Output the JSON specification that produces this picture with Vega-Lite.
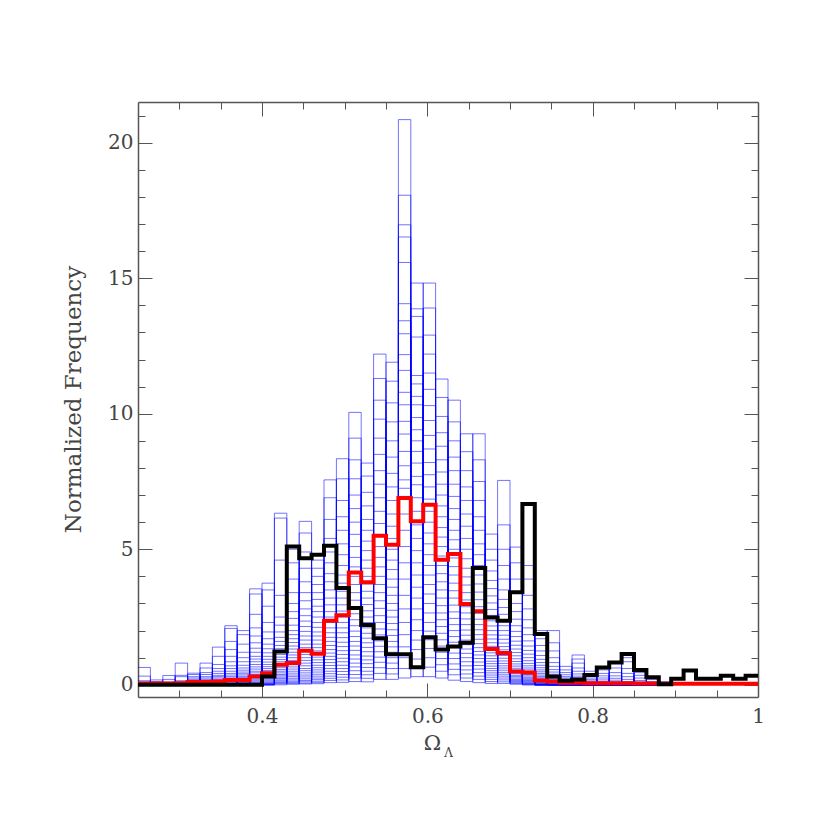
{
  "$schema": "https://vega.github.io/schema/vega-lite/v6.json",
  "width": 620,
  "height": 595,
  "autosize": {"type": "none"},
  "padding": {"left": 138, "top": 102, "right": 72, "bottom": 129},
  "background": "white",
  "config": {
    "view": {"stroke": null},
    "axis": {"labelFont": "DejaVu Serif", "titleFont": "DejaVu Serif", "domainColor": "#555555", "tickColor": "#555555", "labelColor": "#444444", "titleColor": "#444444", "grid": false, "titleFontWeight": "normal"}
  },
  "datasets": {
    "blue": [
      {"om":0.25,"a":0.64,"b":0.32,"c":0.15,"d":0.1,"e":0,"f":0,"g":0,"h":0,"i":0,"j":0,"k":0,"l":0,"m":0,"n":0,"o":0,"p":0,"q":0,"r":0,"s":0,"t":0,"u":0,"v":0,"w":0,"x":0,"y":0,"z":0,"A":0,"B":0,"C":0,"D":0,"E":0,"F":0},
      {"om":0.265,"a":0,"b":0,"c":0,"d":0,"e":0,"f":0,"g":0,"h":0,"i":0,"j":0,"k":0,"l":0,"m":0,"n":0,"o":0,"p":0,"q":0,"r":0,"s":0,"t":0,"u":0,"v":0,"w":0,"x":0,"y":0.18,"z":0.12,"A":0,"B":0,"C":0,"D":0,"E":0,"F":0},
      {"om":0.28,"a":0,"b":0,"c":0,"d":0,"e":0,"f":0,"g":0,"h":0,"i":0,"j":0,"k":0,"l":0,"m":0,"n":0,"o":0,"p":0,"q":0.34,"r":0.2,"s":0.1,"t":0,"u":0,"v":0,"w":0,"x":0,"y":0,"z":0,"A":0,"B":0,"C":0,"D":0,"E":0,"F":0},
      {"om":0.295,"a":0,"b":0,"c":0,"d":0,"e":0,"f":0,"g":0,"h":0,"i":0.8,"j":0.35,"k":0.3,"l":0.15,"m":0.1,"n":0,"o":0,"p":0,"q":0,"r":0,"s":0,"t":0,"u":0,"v":0,"w":0,"x":0,"y":0,"z":0,"A":0,"B":0,"C":0,"D":0,"E":0,"F":0},
      {"om":0.31,"a":0.43,"b":0.38,"c":0.3,"d":0.25,"e":0.2,"f":0.15,"g":0.1,"h":0.08,"i":0.05,"j":0,"k":0,"l":0,"m":0,"n":0,"o":0,"p":0,"q":0,"r":0,"s":0,"t":0,"u":0,"v":0,"w":0,"x":0,"y":0,"z":0,"A":0,"B":0,"C":0,"D":0,"E":0,"F":0},
      {"om":0.325,"a":0.12,"b":0.1,"c":0.08,"d":0.05,"e":0,"f":0,"g":0,"h":0,"i":0,"j":0,"k":0,"l":0,"m":0,"n":0,"o":0,"p":0,"q":0,"r":0,"s":0,"t":0,"u":0,"v":0,"w":0,"x":0,"y":0.8,"z":0.62,"A":0.45,"B":0.38,"C":0.3,"D":0.25,"E":0.2,"F":0.15},
      {"om":0.34,"a":0,"b":0,"c":0,"d":0,"e":0,"f":0,"g":0,"h":0,"i":0,"j":0,"k":0,"l":0,"m":0,"n":0,"o":0,"p":0,"q":1.39,"r":1.05,"s":0.75,"t":0.6,"u":0.5,"v":0.42,"w":0.35,"x":0.3,"y":0.25,"z":0.2,"A":0.16,"B":0.12,"C":0.1,"D":0.07,"E":0.05,"F":0},
      {"om":0.355,"a":0,"b":0,"c":0,"d":0,"e":0,"f":0,"g":0,"h":0,"i":2.18,"j":2.08,"k":1.6,"l":1.3,"m":1.05,"n":0.85,"o":0.7,"p":0.6,"q":0.5,"r":0.42,"s":0.36,"t":0.3,"u":0.25,"v":0.2,"w":0.16,"x":0.12,"y":0.09,"z":0.06,"A":0.04,"B":0,"C":0,"D":0,"E":0,"F":0},
      {"om":0.37,"a":2,"b":1.85,"c":1.5,"d":1.2,"e":1,"f":0.85,"g":0.72,"h":0.62,"i":0.54,"j":0.47,"k":0.41,"l":0.36,"m":0.3,"n":0.26,"o":0.22,"p":0.18,"q":0.15,"r":0.12,"s":0.09,"t":0.07,"u":0.05,"v":0,"w":0,"x":0,"y":0,"z":0,"A":0,"B":0,"C":0,"D":0,"E":0,"F":0},
      {"om":0.385,"a":1.05,"b":0.95,"c":0.85,"d":0.75,"e":0.66,"f":0.58,"g":0.5,"h":0.44,"i":0.38,"j":0.32,"k":0.27,"l":0.22,"m":0.18,"n":0.14,"o":0.1,"p":0.07,"q":0.05,"r":0.03,"s":0,"t":0,"u":0,"v":0,"w":0,"x":0,"y":3.54,"z":3.35,"A":2.6,"B":2.1,"C":1.8,"D":1.55,"E":1.35,"F":1.2},
      {"om":0.4,"a":0.47,"b":0.41,"c":0.36,"d":0.31,"e":0.26,"f":0.22,"g":0.18,"h":0.14,"i":0.1,"j":0.07,"k":0.05,"l":0.03,"m":0,"n":0,"o":0,"p":0,"q":3.75,"r":3.5,"s":2.9,"t":2.3,"u":1.95,"v":1.7,"w":1.5,"x":1.33,"y":1.18,"z":1.05,"A":0.94,"B":0.84,"C":0.75,"D":0.67,"E":0.6,"F":0.53},
      {"om":0.415,"a":0.28,"b":0.23,"c":0.18,"d":0.14,"e":0.1,"f":0.07,"g":0.04,"h":0,"i":6.33,"j":6.15,"k":4.6,"l":3.3,"m":2.5,"n":2.2,"o":1.95,"p":1.75,"q":1.6,"r":1.45,"s":1.33,"t":1.22,"u":1.12,"v":1.02,"w":0.93,"x":0.85,"y":0.77,"z":0.7,"A":0.63,"B":0.56,"C":0.5,"D":0.44,"E":0.38,"F":0.33},
      {"om":0.43,"a":5,"b":4.5,"c":3.9,"d":3.4,"e":3,"f":2.7,"g":2.45,"h":2.2,"i":2,"j":1.85,"k":1.7,"l":1.56,"m":1.43,"n":1.32,"o":1.2,"p":1.1,"q":1,"r":0.9,"s":0.82,"t":0.74,"u":0.66,"v":0.58,"w":0.5,"x":0.43,"y":0.36,"z":0.3,"A":0.24,"B":0.18,"C":0.13,"D":0.09,"E":0.05,"F":0.02},
      {"om":0.445,"a":2.55,"b":2.35,"c":2.15,"d":1.97,"e":1.8,"f":1.65,"g":1.5,"h":1.37,"i":1.24,"j":1.12,"k":1,"l":0.9,"m":0.8,"n":0.7,"o":0.6,"p":0.52,"q":0.44,"r":0.36,"s":0.29,"t":0.22,"u":0.16,"v":0.11,"w":0.06,"x":0.03,"y":6.03,"z":5.6,"A":4.9,"B":4.3,"C":3.8,"D":3.4,"E":3.1,"F":2.8},
      {"om":0.46,"a":1.25,"b":1.13,"c":1.02,"d":0.92,"e":0.82,"f":0.72,"g":0.63,"h":0.55,"i":0.47,"j":0.39,"k":0.32,"l":0.25,"m":0.19,"n":0.13,"o":0.08,"p":0.04,"q":4.6,"r":4.3,"s":4,"t":3.7,"u":3.4,"v":3.15,"w":2.9,"x":2.7,"y":2.5,"z":2.3,"A":2.12,"B":1.95,"C":1.8,"D":1.65,"E":1.5,"F":1.37},
      {"om":0.475,"a":0.71,"b":0.6,"c":0.5,"d":0.41,"e":0.32,"f":0.24,"g":0.16,"h":0.08,"i":7.56,"j":6.9,"k":6.1,"l":5.4,"m":4.9,"n":4.5,"o":4.1,"p":3.8,"q":3.5,"r":3.2,"s":2.95,"t":2.7,"u":2.5,"v":2.3,"w":2.1,"x":1.92,"y":1.75,"z":1.6,"A":1.45,"B":1.3,"C":1.17,"D":1.05,"E":0.93,"F":0.82},
      {"om":0.49,"a":8.34,"b":7.6,"c":6.8,"d":6.2,"e":5.7,"f":5.2,"g":4.8,"h":4.4,"i":4.05,"j":3.75,"k":3.45,"l":3.2,"m":2.95,"n":2.72,"o":2.5,"p":2.3,"q":2.1,"r":1.92,"s":1.74,"t":1.57,"u":1.41,"v":1.26,"w":1.12,"x":0.98,"y":0.85,"z":0.72,"A":0.6,"B":0.49,"C":0.38,"D":0.28,"E":0.18,"F":0.09},
      {"om":0.505,"a":5.1,"b":4.7,"c":4.35,"d":4,"e":3.7,"f":3.4,"g":3.12,"h":2.86,"i":2.62,"j":2.4,"k":2.18,"l":1.98,"m":1.78,"n":1.6,"o":1.43,"p":1.27,"q":1.1,"r":0.95,"s":0.8,"t":0.66,"u":0.52,"v":0.38,"w":0.25,"x":0.12,"y":10.05,"z":9.1,"A":8.3,"B":7.6,"C":7,"D":6.5,"E":6,"F":5.55},
      {"om":0.52,"a":2.5,"b":2.3,"c":2.1,"d":1.9,"e":1.72,"f":1.55,"g":1.38,"h":1.22,"i":1.06,"j":0.92,"k":0.78,"l":0.64,"m":0.5,"n":0.37,"o":0.24,"p":0.11,"q":8.18,"r":7.7,"s":7.1,"t":6.6,"u":6.1,"v":5.7,"w":5.3,"x":4.95,"y":4.6,"z":4.3,"A":4,"B":3.72,"C":3.45,"D":3.2,"E":2.96,"F":2.73},
      {"om":0.535,"a":1.62,"b":1.42,"c":1.22,"d":1.02,"e":0.83,"f":0.63,"g":0.42,"h":0.2,"i":12.2,"j":11.3,"k":10.5,"l":9.8,"m":9.1,"n":8.5,"o":7.9,"p":7.4,"q":6.9,"r":6.4,"s":5.95,"t":5.5,"u":5.1,"v":4.7,"w":4.35,"x":4,"y":3.7,"z":3.4,"A":3.1,"B":2.82,"C":2.55,"D":2.3,"E":2.06,"F":1.84},
      {"om":0.55,"a":11.9,"b":11.2,"c":10.4,"d":9.7,"e":9,"f":8.4,"g":7.8,"h":7.3,"i":6.8,"j":6.3,"k":5.85,"l":5.4,"m":5,"n":4.6,"o":4.25,"p":3.9,"q":3.6,"r":3.3,"s":3,"t":2.75,"u":2.5,"v":2.26,"w":2.03,"x":1.82,"y":1.6,"z":1.4,"A":1.2,"B":1,"C":0.8,"D":0.6,"E":0.4,"F":0.2},
      {"om":0.565,"a":12.18,"b":11.6,"c":10.79,"d":10.33,"e":9.72,"f":9.25,"g":8.61,"h":8.08,"i":7.56,"j":7.25,"k":6.95,"l":6.3,"m":5.7,"n":5.1,"o":4.5,"p":3.9,"q":3.3,"r":2.8,"s":2.3,"t":1.85,"u":1.4,"v":1,"w":0.6,"x":0.25,"y":20.85,"z":18.06,"A":16.97,"B":16.52,"C":15.58,"D":14.06,"E":13.43,"F":12.95},
      {"om":0.58,"a":6.4,"b":5.9,"c":5.4,"d":4.95,"e":4.5,"f":4.05,"g":3.6,"h":3.2,"i":2.8,"j":2.4,"k":2,"l":1.65,"m":1.3,"n":0.95,"o":0.6,"p":0.3,"q":14.82,"r":13.87,"s":13.59,"t":12.83,"u":11.41,"v":11.1,"w":10.64,"x":10.33,"y":9.86,"z":9.41,"A":9,"B":8.61,"C":8.18,"D":7.69,"E":7.38,"F":6.9},
      {"om":0.595,"a":2.65,"b":2.3,"c":1.98,"d":1.66,"e":1.34,"f":1,"g":0.65,"h":0.3,"i":14.82,"j":13.9,"k":12.9,"l":12.2,"m":11.5,"n":10.9,"o":10.3,"p":9.75,"q":9.2,"r":8.7,"s":8.2,"t":7.75,"u":7.3,"v":6.85,"w":6.4,"x":6,"y":5.6,"z":5.2,"A":4.8,"B":4.4,"C":4.05,"D":3.7,"E":3.35,"F":3},
      {"om":0.61,"a":11.28,"b":10.6,"c":9.9,"d":9.3,"e":8.8,"f":8.3,"g":7.85,"h":7.4,"i":7,"j":6.6,"k":6.2,"l":5.8,"m":5.45,"n":5.1,"o":4.75,"p":4.4,"q":4.1,"r":3.8,"s":3.5,"t":3.2,"u":2.92,"v":2.65,"w":2.4,"x":2.15,"y":1.9,"z":1.66,"A":1.43,"B":1.2,"C":0.97,"D":0.74,"E":0.5,"F":0.25},
      {"om":0.625,"a":6.1,"b":5.7,"c":5.35,"d":5,"e":4.68,"f":4.36,"g":4.05,"h":3.75,"i":3.47,"j":3.2,"k":2.94,"l":2.69,"m":2.45,"n":2.22,"o":2,"p":1.78,"q":1.57,"r":1.37,"s":1.17,"t":0.97,"u":0.77,"v":0.57,"w":0.37,"x":0.17,"y":10.5,"z":9.7,"A":9,"B":8.4,"C":7.9,"D":7.4,"E":6.95,"F":6.5},
      {"om":0.64,"a":2.65,"b":2.43,"c":2.22,"d":2.02,"e":1.83,"f":1.65,"g":1.48,"h":1.32,"i":1.16,"j":1,"k":0.85,"l":0.7,"m":0.55,"n":0.4,"o":0.25,"p":0.12,"q":9.26,"r":8.6,"s":7.9,"t":7.3,"u":6.8,"v":6.3,"w":5.85,"x":5.4,"y":5,"z":4.65,"A":4.3,"B":3.98,"C":3.68,"D":3.4,"E":3.13,"F":2.88},
      {"om":0.655,"a":0.97,"b":0.84,"c":0.71,"d":0.58,"e":0.45,"f":0.32,"g":0.2,"h":0.08,"i":9.26,"j":8.3,"k":7.5,"l":6.8,"m":6.2,"n":5.7,"o":5.2,"p":4.8,"q":4.4,"r":4.05,"s":3.72,"t":3.42,"u":3.14,"v":2.88,"w":2.64,"x":2.42,"y":2.22,"z":2.03,"A":1.85,"B":1.68,"C":1.52,"D":1.37,"E":1.23,"F":1.1},
      {"om":0.67,"a":5.56,"b":5,"c":4.6,"d":4.2,"e":3.85,"f":3.55,"g":3.28,"h":3.02,"i":2.78,"j":2.56,"k":2.36,"l":2.17,"m":2,"n":1.84,"o":1.69,"p":1.55,"q":1.42,"r":1.3,"s":1.18,"t":1.07,"u":0.97,"v":0.87,"w":0.78,"x":0.69,"y":0.6,"z":0.52,"A":0.44,"B":0.36,"C":0.28,"D":0.2,"E":0.12,"F":0.05},
      {"om":0.685,"a":2.6,"b":2.38,"c":2.18,"d":2,"e":1.83,"f":1.68,"g":1.54,"h":1.41,"i":1.29,"j":1.18,"k":1.08,"l":0.98,"m":0.88,"n":0.79,"o":0.7,"p":0.62,"q":0.54,"r":0.46,"s":0.39,"t":0.32,"u":0.25,"v":0.18,"w":0.11,"x":0.05,"y":7.54,"z":5.9,"A":5,"B":4.4,"C":3.9,"D":3.5,"E":3.15,"F":2.85},
      {"om":0.7,"a":0.86,"b":0.77,"c":0.69,"d":0.61,"e":0.54,"f":0.47,"g":0.41,"h":0.35,"i":0.3,"j":0.25,"k":0.2,"l":0.16,"m":0.12,"n":0.08,"o":0.05,"p":0.02,"q":5.08,"r":4.5,"s":3.9,"t":3.4,"u":3,"v":2.7,"w":2.42,"x":2.18,"y":1.97,"z":1.78,"A":1.61,"B":1.46,"C":1.32,"D":1.19,"E":1.07,"F":0.96},
      {"om":0.715,"a":0.16,"b":0.13,"c":0.1,"d":0.07,"e":0.05,"f":0.03,"g":0,"h":0,"i":4.4,"j":3.9,"k":3.3,"l":2.8,"m":2.4,"n":2.1,"o":1.85,"p":1.62,"q":1.43,"r":1.27,"s":1.13,"t":1,"u":0.89,"v":0.79,"w":0.7,"x":0.62,"y":0.55,"z":0.49,"A":0.43,"B":0.38,"C":0.33,"D":0.28,"E":0.24,"F":0.2},
      {"om":0.73,"a":2,"b":1.7,"c":1.45,"d":1.25,"e":1.08,"f":0.94,"g":0.82,"h":0.72,"i":0.63,"j":0.55,"k":0.48,"l":0.42,"m":0.36,"n":0.31,"o":0.26,"p":0.22,"q":0.18,"r":0.15,"s":0.12,"t":0.09,"u":0.07,"v":0.05,"w":0.03,"x":0,"y":0,"z":0,"A":0,"B":0,"C":0,"D":0,"E":0,"F":0},
      {"om":0.745,"a":0.39,"b":0.33,"c":0.28,"d":0.23,"e":0.19,"f":0.15,"g":0.12,"h":0.09,"i":0.06,"j":0.04,"k":0.02,"l":0,"m":0,"n":0,"o":0,"p":0,"q":0,"r":0,"s":0,"t":0,"u":0,"v":0,"w":0,"x":0,"y":2,"z":1.55,"A":1.25,"B":1,"C":0.82,"D":0.68,"E":0.56,"F":0.47},
      {"om":0.76,"a":0,"b":0,"c":0,"d":0,"e":0,"f":0,"g":0,"h":0,"i":0,"j":0,"k":0,"l":0,"m":0,"n":0,"o":0,"p":0,"q":0.68,"r":0.55,"s":0.45,"t":0.37,"u":0.3,"v":0.25,"w":0.2,"x":0.16,"y":0.12,"z":0.09,"A":0.06,"B":0.04,"C":0,"D":0,"E":0,"F":0},
      {"om":0.775,"a":0,"b":0,"c":0,"d":0,"e":0,"f":0,"g":0,"h":0,"i":1.1,"j":0.95,"k":0.8,"l":0.62,"m":0.5,"n":0.4,"o":0.32,"p":0.25,"q":0.19,"r":0.14,"s":0.1,"t":0.07,"u":0.04,"v":0,"w":0,"x":0,"y":0,"z":0,"A":0,"B":0,"C":0,"D":0,"E":0,"F":0},
      {"om":0.79,"a":0.5,"b":0.4,"c":0.32,"d":0.25,"e":0.19,"f":0.14,"g":0.1,"h":0.06,"i":0.03,"j":0,"k":0,"l":0,"m":0,"n":0,"o":0,"p":0,"q":0,"r":0,"s":0,"t":0,"u":0,"v":0,"w":0,"x":0,"y":0,"z":0,"A":0,"B":0,"C":0,"D":0,"E":0,"F":0},
      {"om":0.805,"a":0.04,"b":0,"c":0,"d":0,"e":0,"f":0,"g":0,"h":0,"i":0,"j":0,"k":0,"l":0,"m":0,"n":0,"o":0,"p":0,"q":0,"r":0,"s":0,"t":0,"u":0,"v":0,"w":0,"x":0,"y":0.65,"z":0.55,"A":0.42,"B":0.33,"C":0.25,"D":0.18,"E":0.12,"F":0.07},
      {"om":0.82,"a":0,"b":0,"c":0,"d":0,"e":0,"f":0,"g":0,"h":0,"i":0,"j":0,"k":0,"l":0,"m":0,"n":0,"o":0,"p":0,"q":0.86,"r":0.62,"s":0.45,"t":0.33,"u":0.24,"v":0.17,"w":0.11,"x":0.06,"y":0,"z":0,"A":0,"B":0,"C":0,"D":0,"E":0,"F":0},
      {"om":0.835,"a":0,"b":0,"c":0,"d":0,"e":0,"f":0,"g":0,"h":0,"i":1,"j":0.85,"k":0.6,"l":0.42,"m":0.3,"n":0.2,"o":0.12,"p":0.06,"q":0,"r":0,"s":0,"t":0,"u":0,"v":0,"w":0,"x":0,"y":0,"z":0,"A":0,"B":0,"C":0,"D":0,"E":0,"F":0},
      {"om":0.85,"a":0.45,"b":0.35,"c":0.25,"d":0.16,"e":0.1,"f":0.05,"g":0,"h":0,"i":0,"j":0,"k":0,"l":0,"m":0,"n":0,"o":0,"p":0,"q":0,"r":0,"s":0,"t":0,"u":0,"v":0,"w":0,"x":0,"y":0,"z":0,"A":0,"B":0,"C":0,"D":0,"E":0,"F":0},
      {"om":0.865,"a":0,"b":0,"c":0,"d":0,"e":0,"f":0,"g":0,"h":0,"i":0,"j":0,"k":0,"l":0,"m":0,"n":0,"o":0,"p":0,"q":0,"r":0,"s":0,"t":0,"u":0,"v":0,"w":0,"x":0,"y":0.3,"z":0.2,"A":0.12,"B":0.06,"C":0,"D":0,"E":0,"F":0},
      {"om":0.88,"a":0,"b":0,"c":0,"d":0,"e":0,"f":0,"g":0,"h":0,"i":0,"j":0,"k":0,"l":0,"m":0,"n":0,"o":0,"p":0,"q":0.12,"r":0.06,"s":0,"t":0,"u":0,"v":0,"w":0,"x":0,"y":0,"z":0,"A":0,"B":0,"C":0,"D":0,"E":0,"F":0},
      {"om":0.895,"a":0,"b":0,"c":0,"d":0,"e":0,"f":0,"g":0,"h":0,"i":0,"j":0,"k":0,"l":0,"m":0,"n":0,"o":0,"p":0,"q":0,"r":0,"s":0,"t":0,"u":0,"v":0,"w":0,"x":0,"y":0,"z":0,"A":0,"B":0,"C":0,"D":0,"E":0,"F":0}
    ],
    "main": [
      {"om":0.25,"r":0.05,"k":0},{"om":0.265,"r":0.05,"k":0},{"om":0.28,"r":0.05,"k":0},{"om":0.295,"r":0.06,"k":0},
      {"om":0.31,"r":0.1,"k":0},{"om":0.325,"r":0.1,"k":0},{"om":0.34,"r":0.12,"k":0},{"om":0.355,"r":0.18,"k":0},
      {"om":0.37,"r":0.18,"k":0},{"om":0.385,"r":0.31,"k":0},{"om":0.4,"r":0.43,"k":0.31},{"om":0.415,"r":0.74,"k":1.23},
      {"om":0.43,"r":0.8,"k":5.1},{"om":0.445,"r":1.26,"k":4.67},{"om":0.46,"r":1.15,"k":4.8},{"om":0.475,"r":2.36,"k":5.13},
      {"om":0.49,"r":2.57,"k":3.57},{"om":0.505,"r":4.14,"k":2.83},{"om":0.52,"r":3.78,"k":2.21},{"om":0.535,"r":5.5,"k":1.72},
      {"om":0.55,"r":5.17,"k":1.13},{"om":0.565,"r":6.89,"k":1.13},{"om":0.58,"r":6.03,"k":0.65},{"om":0.595,"r":6.64,"k":1.75},
      {"om":0.61,"r":4.61,"k":1.3},{"om":0.625,"r":4.83,"k":1.41},{"om":0.64,"r":2.98,"k":1.55},{"om":0.655,"r":2.71,"k":4.31},
      {"om":0.67,"r":1.32,"k":2.48},{"om":0.685,"r":1.17,"k":2.36},{"om":0.7,"r":0.49,"k":3.41},{"om":0.715,"r":0.45,"k":6.67},
      {"om":0.73,"r":0.16,"k":1.87},{"om":0.745,"r":0.12,"k":0.31},{"om":0.76,"r":0.08,"k":0.15},{"om":0.775,"r":0.08,"k":0.2},
      {"om":0.79,"r":0.06,"k":0.36},{"om":0.805,"r":0.06,"k":0.64},{"om":0.82,"r":0.06,"k":0.82},{"om":0.835,"r":0.06,"k":1.14},
      {"om":0.85,"r":0.05,"k":0.55},{"om":0.865,"r":0.05,"k":0.28},{"om":0.88,"r":0.04,"k":0.02},{"om":0.895,"r":0.04,"k":0.22},
      {"om":0.91,"r":0.04,"k":0.53},{"om":0.925,"r":0.04,"k":0.22},{"om":0.94,"r":0.04,"k":0.22},{"om":0.955,"r":0.04,"k":0.33},
      {"om":0.97,"r":0.04,"k":0.22},{"om":0.985,"r":0.04,"k":0.33},{"om":1.0,"r":0.04,"k":0.33}
    ]
  },
  "layer": [
    {
      "data": {"name": "blue"},
      "transform": [{"fold": ["a","b","c","d","e","f","g","h","i","j","k","l","m","n","o","p","q","r","s","t","u","v","w","x","y","z","A","B","C","D","E","F"], "as": ["hist","freq"]}],
      "mark": {"type": "line", "interpolate": "step-after", "stroke": "#0000ff", "strokeWidth": 1, "opacity": 0.55, "clip": true},
      "encoding": {
        "x": {"field": "om", "type": "quantitative", "scale": {"domain": [0.25, 1], "nice": false, "zero": false},
              "axis": {"orient": "bottom", "values": [0.4, 0.6, 0.8, 1], "format": "~g", "ticks": false, "labelPadding": 9, "labelFontSize": 20, "labelFlush": false, "domainWidth": 1.5,
                       "title": "Ω", "titleFontSize": 21, "titleX": 294, "titleY": 46, "titleAlign": "center", "titleBaseline": "middle", "titleAngle": 0}},
        "y": {"field": "freq", "type": "quantitative", "scale": {"domain": [-0.45, 21.5], "nice": false, "zero": false},
              "axis": {"orient": "left", "values": [0, 5, 10, 15, 20], "ticks": false, "labelPadding": 5, "labelFontSize": 20, "labelFlush": false, "domainWidth": 1.5,
                       "title": "Normalized Frequency", "titleFontSize": 23, "titleX": -65, "titleY": 297, "titleAlign": "center", "titleBaseline": "middle", "titleAngle": -90}},
        "detail": {"field": "hist", "type": "nominal"}
      }
    },
    {
      "data": {"name": "main"},
      "mark": {"type": "line", "interpolate": "step-after", "stroke": "#ff0000", "strokeWidth": 4, "strokeJoin": "miter", "clip": true},
      "encoding": {
        "x": {"field": "om", "type": "quantitative",
              "axis": {"orient": "top", "values": [0.3,0.35,0.4,0.45,0.5,0.55,0.6,0.65,0.7,0.75,0.8,0.85,0.9,0.95], "labels": false, "title": null, "domainWidth": 1.5,
                       "tickSize": {"condition": {"test": "abs(datum.value*5 - round(datum.value*5)) < 0.01", "value": -14}, "value": -7}}},
        "y": {"field": "r", "type": "quantitative",
              "axis": {"orient": "right", "values": [0,1,2,3,4,5,6,7,8,9,10,11,12,13,14,15,16,17,18,19,20,21], "labels": false, "title": null, "domainWidth": 1.5,
                       "tickSize": {"condition": {"test": "datum.value % 5 == 0", "value": -14}, "value": -7}}}
      }
    },
    {
      "data": {"name": "main"},
      "mark": {"type": "line", "interpolate": "step-after", "stroke": "#000000", "strokeWidth": 4, "strokeJoin": "miter", "clip": true},
      "encoding": {
        "x": {"field": "om", "type": "quantitative",
              "axis": {"orient": "bottom", "values": [0.3,0.35,0.4,0.45,0.5,0.55,0.6,0.65,0.7,0.75,0.8,0.85,0.9,0.95], "labels": false, "domain": false,
                       "tickSize": {"condition": {"test": "abs(datum.value*5 - round(datum.value*5)) < 0.01", "value": -14}, "value": -7},
                       "title": "Λ", "titleFontSize": 12, "titleX": 310, "titleY": 55, "titleAlign": "center", "titleBaseline": "middle", "titleAngle": 0}},
        "y": {"field": "k", "type": "quantitative",
              "axis": {"orient": "left", "values": [0,1,2,3,4,5,6,7,8,9,10,11,12,13,14,15,16,17,18,19,20,21], "labels": false, "title": null, "domain": false,
                       "tickSize": {"condition": {"test": "datum.value % 5 == 0", "value": -14}, "value": -7}}}
      }
    }
  ],
  "resolve": {"axis": {"x": "independent", "y": "independent"}}
}
